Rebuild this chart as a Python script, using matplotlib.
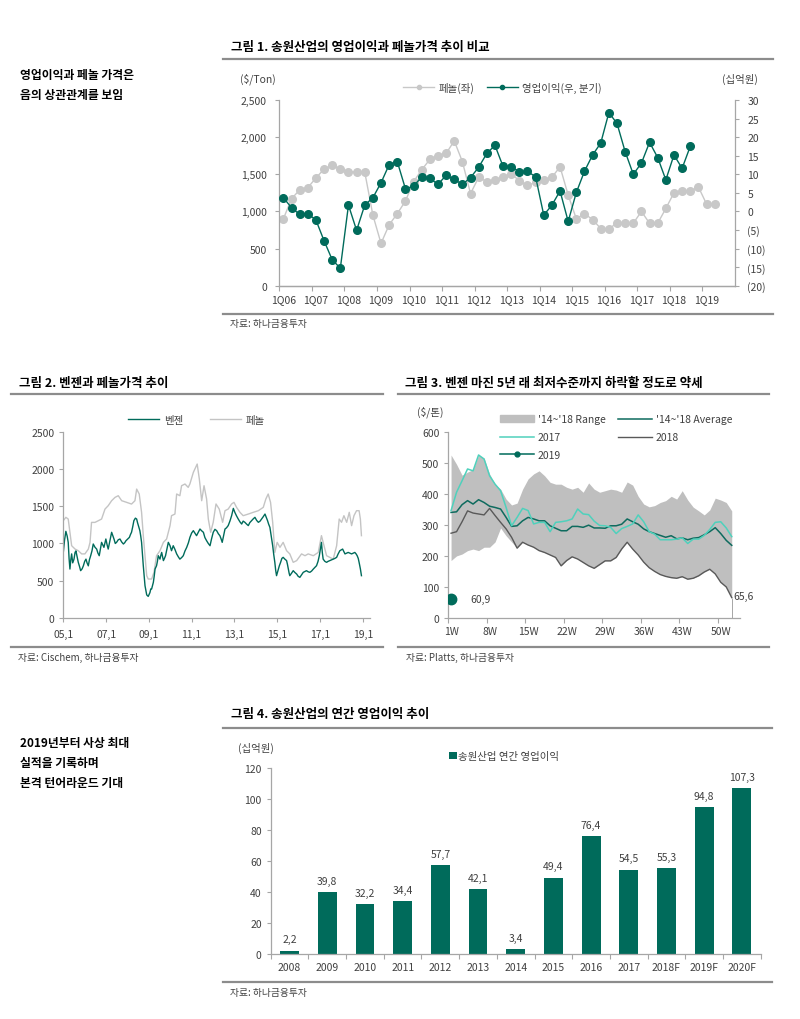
import numpy as np
import matplotlib
matplotlib.use('Agg')
import matplotlib.pyplot as plt
from matplotlib.lines import Line2D
from matplotlib.patches import Patch
from matplotlib.ticker import FuncFormatter

plt.rcParams['font.family'] = ['Noto Sans CJK KR', 'DejaVu Sans']
plt.rcParams['axes.unicode_minus'] = False

GREEN = '#006B5B'
LGRAY = '#C8C8C8'
AXIS = '#A6A6A6'
TXT = '#404040'
RULE = '#8C8C8C'

# ---- Fig 1: quarterly phenol price ($/ton) and operating profit (bn won)
q_labels = ['1Q06', '1Q07', '1Q08', '1Q09', '1Q10', '1Q11', '1Q12',
            '1Q13', '1Q14', '1Q15', '1Q16', '1Q17', '1Q18', '1Q19']
phenol_q = [900, 1170, 1290, 1320, 1450, 1570, 1620, 1570, 1530, 1530, 1530, 950,
            570, 820, 970, 1140, 1400, 1560, 1700, 1750, 1780, 1950, 1670, 1240,
            1460, 1400, 1420, 1460, 1510, 1410, 1350, 1390, 1420, 1460, 1600, 1220,
            900, 970, 890, 770, 760, 850, 850, 840, 1000, 840, 840, 1040,
            1250, 1280, 1270, 1330, 1100, 1100]
op_q = [3.7, 1.0, -0.8, -0.6, -2.3, -7.9, -13.0, -15.3, 1.7, -5.1, 1.7, 3.7,
        7.7, 12.6, 13.4, 6.1, 6.8, 9.3, 8.9, 7.3, 9.7, 8.6, 7.3, 9.1,
        11.9, 15.6, 17.8, 12.1, 12.0, 10.7, 10.8, 9.3, -1.0, 1.7, 5.5, -2.7,
        5.1, 10.8, 15.2, 18.4, 26.6, 23.7, 16.1, 10.0, 13.0, 18.6, 14.5, 8.5,
        15.2, 11.6, 17.5]

# ---- Fig 2: benzene / phenol prices (year, value)
bz_t = [2005.00, 2005.06, 2005.12, 2005.18, 2005.23, 2005.27, 2005.31, 2005.35, 2005.39, 2005.44,
        2005.50, 2005.55, 2005.59, 2005.65, 2005.70, 2005.76, 2005.81, 2005.88, 2005.94, 2006.00,
        2006.06, 2006.11, 2006.17, 2006.22, 2006.28, 2006.34, 2006.40, 2006.48, 2006.56, 2006.62,
        2006.68, 2006.74, 2006.79, 2006.85, 2006.90, 2006.95, 2006.99, 2007.05, 2007.10, 2007.18,
        2007.26, 2007.32, 2007.37, 2007.43, 2007.49, 2007.57, 2007.65, 2007.73, 2007.81, 2007.87,
        2007.93, 2008.01, 2008.09, 2008.14, 2008.19, 2008.25, 2008.30, 2008.37, 2008.43, 2008.47,
        2008.51, 2008.55, 2008.58, 2008.62, 2008.66, 2008.74, 2008.82, 2008.90, 2008.97, 2009.05,
        2009.09, 2009.13, 2009.21, 2009.25, 2009.29, 2009.36, 2009.40, 2009.44, 2009.52, 2009.56,
        2009.60, 2009.68, 2009.73, 2009.78, 2009.85, 2009.91, 2009.99, 2010.06, 2010.14, 2010.22,
        2010.30, 2010.38, 2010.45, 2010.53, 2010.61, 2010.69, 2010.77, 2010.85, 2010.92, 2011.00,
        2011.08, 2011.15, 2011.23, 2011.31, 2011.39, 2011.47, 2011.55, 2011.62, 2011.70, 2011.78,
        2011.86, 2011.93, 2012.01, 2012.09, 2012.17, 2012.25, 2012.32, 2012.38, 2012.43, 2012.50,
        2012.56, 2012.63, 2012.71, 2012.79, 2012.87, 2012.95, 2013.02, 2013.10, 2013.18, 2013.26,
        2013.34, 2013.41, 2013.49, 2013.57, 2013.65, 2013.72, 2013.80, 2013.88, 2013.96, 2014.04,
        2014.12, 2014.20, 2014.27, 2014.35, 2014.43, 2014.49, 2014.55, 2014.60, 2014.66, 2014.72,
        2014.79, 2014.84, 2014.89, 2014.93, 2014.97, 2015.01, 2015.05, 2015.10, 2015.16, 2015.22,
        2015.28, 2015.36, 2015.44, 2015.48, 2015.52, 2015.56, 2015.59, 2015.67, 2015.75, 2015.83,
        2015.91, 2015.98, 2016.06, 2016.14, 2016.22, 2016.30, 2016.37, 2016.45, 2016.53, 2016.61,
        2016.69, 2016.77, 2016.84, 2016.91, 2016.97, 2017.02, 2017.07, 2017.11, 2017.15, 2017.23,
        2017.31, 2017.38, 2017.46, 2017.54, 2017.62, 2017.70, 2017.78, 2017.85, 2017.93, 2018.00,
        2018.06, 2018.12, 2018.17, 2018.25, 2018.32, 2018.40, 2018.48, 2018.55, 2018.63, 2018.69,
        2018.74, 2018.79, 2018.83, 2018.89, 2018.94]
bz_v = [880, 1050, 1163, 1100, 1015, 800, 657, 780, 860, 740,
        790, 880, 900, 820, 747, 690, 635, 660, 702, 760,
        790, 740, 700, 780, 836, 900, 993, 950, 925, 870,
        836, 930, 1015, 980, 948, 1010, 1060, 980, 925, 1040,
        1150, 1100, 1060, 1000, 1015, 1050, 1060, 1020, 993, 1010,
        1037, 1060, 1082, 1120, 1150, 1230, 1306, 1340, 1328, 1280,
        1240, 1200, 1172, 1100, 1015, 702, 434, 310, 290, 340,
        390, 390, 478, 560, 657, 702, 760, 836, 790, 840,
        880, 770, 800, 836, 930, 1015, 970, 903, 970, 920,
        860, 820, 790, 810, 836, 900, 948, 1010, 1082, 1140,
        1172, 1140, 1105, 1150, 1194, 1170, 1150, 1080, 1037, 1000,
        970, 1060, 1150, 1190, 1172, 1130, 1105, 1060, 1015, 1110,
        1194, 1210, 1240, 1300, 1373, 1471, 1418, 1370, 1328, 1290,
        1261, 1300, 1284, 1260, 1240, 1280, 1306, 1330, 1351, 1310,
        1284, 1300, 1328, 1360, 1395, 1350, 1306, 1260, 1216, 1100,
        970, 850, 747, 640, 568, 610, 657, 700, 747, 800,
        814, 790, 770, 720, 657, 600, 568, 600, 635, 610,
        590, 560, 545, 580, 613, 625, 635, 620, 613, 630,
        657, 680, 702, 760, 836, 930, 1015, 880, 790, 760,
        747, 760, 770, 780, 790, 800, 814, 860, 903, 915,
        925, 890, 860, 870, 880, 870, 860, 870, 880, 860,
        836, 800, 747, 660, 568]
ph_t = [2005.00, 2005.12, 2005.23, 2005.31, 2005.39, 2005.55, 2005.70, 2005.86, 2006.01, 2006.17,
        2006.25, 2006.32, 2006.48, 2006.64, 2006.79, 2006.95, 2007.10, 2007.26, 2007.42, 2007.57,
        2007.73, 2007.96, 2008.19, 2008.35, 2008.43, 2008.55, 2008.66, 2008.74, 2008.82, 2008.90,
        2008.97, 2009.13, 2009.24, 2009.36, 2009.52, 2009.68, 2009.83, 2009.99, 2010.06, 2010.22,
        2010.30, 2010.45, 2010.53, 2010.69, 2010.84, 2010.92, 2011.08, 2011.26, 2011.36, 2011.47,
        2011.58, 2011.70, 2011.78, 2011.89, 2012.01, 2012.14, 2012.29, 2012.45, 2012.56, 2012.71,
        2012.87, 2012.98, 2013.10, 2013.26, 2013.41, 2013.65, 2013.88, 2014.12, 2014.35, 2014.47,
        2014.58, 2014.69, 2014.79, 2014.89, 2015.00, 2015.13, 2015.28, 2015.44, 2015.59, 2015.75,
        2015.91, 2016.14, 2016.30, 2016.45, 2016.69, 2016.92, 2017.07, 2017.15, 2017.31, 2017.46,
        2017.62, 2017.78, 2017.90, 2018.01, 2018.12, 2018.25, 2018.37, 2018.48, 2018.59, 2018.71,
        2018.83, 2018.89, 2018.94]
ph_v = [1306, 1351, 1328, 1150, 970, 925, 903, 860, 860, 925,
        1015, 1283, 1283, 1306, 1328, 1462, 1507, 1574, 1619, 1641,
        1574, 1552, 1529, 1574, 1730, 1664, 1418, 1105, 836, 568,
        523, 523, 613, 836, 903, 1015, 1060, 1239, 1373, 1395,
        1664, 1641, 1775, 1798, 1753, 1800, 1954, 2066, 1865, 1574,
        1775, 1597, 1328, 1150, 1284, 1530, 1462, 1284, 1440, 1462,
        1530, 1552, 1485, 1418, 1373, 1395, 1418, 1440, 1485, 1597,
        1664, 1552, 1284, 880, 1015, 948, 1015, 903, 860, 747,
        770, 860, 836, 860, 836, 880, 1105, 1015, 836, 814,
        790, 970, 1328, 1284, 1373, 1284, 1418, 1239, 1373, 1440,
        1440, 1328, 1105]
yr_ticks = [2005, 2007, 2009, 2011, 2013, 2015, 2017, 2019]
yr_labels = ['05,1', '07,1', '09,1', '11,1', '13,1', '15,1', '17,1', '19,1']

# ---- Fig 3: benzene margin by week ($/ton)
weeks = list(range(1, 53))
wk_labels = ['1W', '8W', '15W', '22W', '29W', '36W', '43W', '50W']
range_hi = [525, 495, 460, 470, 478, 525, 515, 464, 431, 415, 383, 364, 370, 415, 448, 464,
            474, 458, 437, 431, 431, 421, 415, 421, 405, 435, 415, 405, 410, 415, 412, 405,
            438, 428, 392, 367, 358, 362, 372, 378, 392, 383, 410, 380, 357, 345, 332, 348,
            386, 380, 372, 345]
range_lo = [185, 200, 206, 217, 222, 217, 228, 228, 245, 290, 265, 245, 225, 244, 235, 228,
            217, 211, 203, 195, 168, 185, 197, 190, 179, 168, 160, 172, 184, 184, 195, 222,
            244, 222, 203, 180, 162, 150, 140, 134, 130, 128, 133, 125, 128, 136, 148, 157,
            142, 115, 100, 65.6]
avg_1418 = [340, 342, 365, 378, 367, 381, 372, 360, 356, 351, 324, 295, 297, 313, 324, 319,
            313, 313, 297, 289, 281, 281, 295, 295, 292, 299, 290, 290, 289, 297, 297, 302,
            319, 310, 302, 287, 278, 272, 266, 260, 265, 255, 258, 252, 257, 259, 268, 278,
            291, 272, 250, 234]
y2017 = [346, 405, 442, 480, 474, 525, 512, 458, 431, 410, 356, 297, 324, 353, 346, 303,
         308, 308, 278, 308, 310, 313, 319, 351, 335, 333, 312, 298, 297, 292, 272, 288,
         295, 303, 332, 310, 278, 270, 252, 252, 252, 254, 258, 240, 254, 254, 266, 285,
         308, 310, 290, 262]
y2018 = [273, 278, 310, 345, 338, 335, 332, 353, 330, 308, 287, 260, 225, 244, 235, 228,
         217, 211, 203, 195, 168, 185, 197, 190, 179, 168, 160, 172, 184, 184, 195, 222,
         244, 222, 203, 180, 162, 150, 140, 134, 130, 128, 133, 125, 128, 136, 148, 157,
         142, 115, 100, 65.6]
y2019 = [60.9]

# ---- Fig 4: annual operating profit (bn won)
years4 = ['2008', '2009', '2010', '2011', '2012', '2013', '2014',
          '2015', '2016', '2017', '2018F', '2019F', '2020F']
op_annual = [2.2, 39.8, 32.2, 34.4, 57.7, 42.1, 3.4, 49.4, 76.4, 54.5, 55.3, 94.8, 107.3]


def comma(v):
    return f'{v:.1f}'.replace('.', ',')


def style(ax, right=False):
    for s in ['top', 'right', 'left', 'bottom']:
        ax.spines[s].set_visible(False)
    ax.spines['bottom'].set_visible(True)
    ax.spines['right' if right else 'left'].set_visible(True)
    for s in ax.spines.values():
        s.set_color(AXIS)
        s.set_linewidth(0.9)
    ax.tick_params(colors=AXIS, labelcolor=TXT, labelsize=7.5, length=3, width=0.8)
    ax.set_facecolor('none')


def rule(fig, y, x0, x1):
    fig.add_artist(Line2D([x0 / 800, x1 / 800], [1 - y / 1020, 1 - y / 1020],
                          color=RULE, lw=1.6))


def ftext(fig, x, y, s, **kw):
    kw.setdefault('fontsize', 7.5)
    kw.setdefault('color', TXT)
    kw.setdefault('va', 'center')
    fig.text(x / 800, 1 - y / 1020, s, **kw)


fig = plt.figure(figsize=(8, 10.2), dpi=100)

# side notes
ftext(fig, 20, 76, '영업이익과 페놀 가격은', fontsize=8.5, fontweight='bold', color='black')
ftext(fig, 20, 96, '음의 상관관계를 보임', fontsize=8.5, fontweight='bold', color='black')
ftext(fig, 20, 744, '2019년부터 사상 최대', fontsize=8.5, fontweight='bold', color='black')
ftext(fig, 20, 764, '실적을 기록하며', fontsize=8.5, fontweight='bold', color='black')
ftext(fig, 20, 783, '본격 턴어라운드 기대', fontsize=8.5, fontweight='bold', color='black')

# ======== Figure 1
ftext(fig, 231, 48, '그림 1. 송원산업의 영업이익과 페놀가격 추이 비교', fontsize=9, fontweight='bold', color='black')
rule(fig, 60, 223, 773)
rule(fig, 315, 223, 773)
ftext(fig, 230, 324, '자료: 하나금융투자', fontsize=7)

ax1 = fig.add_axes([279.3 / 800, 1 - 286.7 / 1020, (735 - 279.3) / 800, (286.7 - 101) / 1020])
style(ax1)
xq = np.arange(len(phenol_q))
ax1.plot(xq, phenol_q, color=LGRAY, lw=1.0, marker='o', ms=5.5, mec=LGRAY, mfc=LGRAY, zorder=2)
ax1.set_xlim(-0.5, 55.5)
ax1.set_ylim(0, 2500)
ax1.set_yticks(range(0, 2501, 500))
ax1.yaxis.set_major_formatter(FuncFormatter(lambda v, p: f'{v:,.0f}'))
ax1.set_xticks(range(0, 53, 4))
ax1.set_xticklabels(q_labels)
ax1.set_xticks(np.arange(-0.5, 53, 4), minor=True)
ax1.tick_params(axis='x', which='major', length=0, pad=6)
ax1.tick_params(axis='x', which='minor', length=3.5, colors=AXIS, width=0.8)
ax1.tick_params(axis='y', pad=6)

ax1r = ax1.twinx()
style(ax1r, right=True)
ax1r.plot(np.arange(len(op_q)), op_q, color=GREEN, lw=1.0, marker='o', ms=5.5, zorder=3)
ax1r.set_ylim(-20, 30)
ax1r.set_yticks(range(-20, 31, 5))
ax1r.yaxis.set_major_formatter(FuncFormatter(lambda v, p: f'({abs(v):.0f})' if v < 0 else f'{v:.0f}'))
ax1r.tick_params(axis='y', pad=6)

ftext(fig, 240, 79, '($/Ton)')
ftext(fig, 722, 79, '(십억원)')
h1 = [Line2D([], [], color=LGRAY, lw=1.0, marker='o', ms=3),
      Line2D([], [], color=GREEN, lw=1.0, marker='o', ms=3)]
fig.legend(h1, ['페놀(좌)', '영업이익(우, 분기)'], loc='center', ncol=2,
           bbox_to_anchor=(0.628, 1 - 88 / 1020), frameon=False, fontsize=7.5,
           handlelength=3, columnspacing=1.2, handletextpad=0.4, labelcolor=TXT)

# ======== Figure 2
ftext(fig, 19, 383, '그림 2. 벤젠과 페놀가격 추이', fontsize=9, fontweight='bold', color='black')
rule(fig, 395, 11, 383)
rule(fig, 648, 11, 383)
ftext(fig, 18, 658, '자료: Cischem, 하나금융투자', fontsize=7)

ax2 = fig.add_axes([63.3 / 800, 1 - 619 / 1020, (370 - 63.3) / 800, (619 - 432.7) / 1020])
style(ax2)
ph_line, = ax2.plot(ph_t, ph_v, color='#C4C4C4', lw=1.0)
bz_line, = ax2.plot(bz_t, bz_v, color=GREEN, lw=1.0)
ax2.set_xlim(2005, 2019.34)
ax2.set_ylim(0, 2500)
ax2.set_yticks(range(0, 2501, 500))
ax2.set_xticks(yr_ticks)
ax2.set_xticklabels(yr_labels)
ax2.tick_params(axis='x', pad=5)
fig.legend([bz_line, ph_line], ['벤젠', '페놀'], loc='center', ncol=2,
           bbox_to_anchor=(0.2455, 1 - 421 / 1020),
           frameon=False, fontsize=7.5, handlelength=3, columnspacing=2.6,
           handletextpad=0.4, labelcolor=TXT)

# ======== Figure 3
ftext(fig, 405, 383, '그림 3. 벤젠 마진 5년 래 최저수준까지 하락할 정도로 약세', fontsize=9,
      fontweight='bold', color='black')
rule(fig, 395, 398, 769)
rule(fig, 648, 398, 769)
ftext(fig, 406, 658, '자료: Platts, 하나금융투자', fontsize=7)

ax3 = fig.add_axes([448.3 / 800, 1 - 619 / 1020, (740 - 448.3) / 800, (619 - 432.7) / 1020])
style(ax3)
ax3.fill_between(weeks, range_lo, range_hi, color='#BFBFBF', lw=0, zorder=1)
ax3.plot(weeks, avg_1418, color='#0E6B5E', lw=1.1, zorder=3)
ax3.plot(weeks, y2017, color='#4FD1BC', lw=1.1, zorder=3)
ax3.plot(weeks, y2018, color='#595959', lw=1.0, zorder=2)
ax3.plot(weeks[:1], y2019, color=GREEN, marker='o', ms=7.5, lw=0, zorder=4)
ax3.vlines(weeks[-1], 0, y2018[-1], color='#A6A6A6', lw=0.7)
ax3.text(weeks[0] + 3.5, y2019[0], comma(y2019[0]), fontsize=7.5, color=TXT, va='center')
ax3.text(weeks[-1] + 0.3, y2018[-1] + 6, comma(y2018[-1]), fontsize=7.5, color=TXT, va='center')
ax3.set_xlim(0.5, 53.5)
ax3.set_ylim(0, 600)
ax3.set_yticks(range(0, 601, 100))
ax3.set_xticks(range(1, 51, 7))
ax3.set_xticklabels(wk_labels)
ax3.set_xticks(np.arange(0.5, 51, 7), minor=True)
ax3.tick_params(axis='x', which='major', length=0, pad=6)
ax3.tick_params(axis='x', which='minor', length=3.5, colors=AXIS, width=0.8)
ftext(fig, 417, 412, '($/톤)')
h3 = [Patch(color='#BFBFBF'),
      Line2D([], [], color='#4FD1BC', lw=1.1),
      Line2D([], [], color=GREEN, lw=1.1, marker='o', ms=3.5),
      Line2D([], [], color='#0E6B5E', lw=1.1),
      Line2D([], [], color='#595959', lw=1.0)]
l3 = ["'14~'18 Range", '2017', '2019', "'14~'18 Average", '2018']
fig.legend(h3, l3, loc='upper left', ncol=2, bbox_to_anchor=(491 / 800, 1 - 406 / 1020),
           frameon=False, fontsize=7.5, handlelength=3.2, columnspacing=1.2,
           handletextpad=0.4, labelspacing=0.75, labelcolor=TXT)

# ======== Figure 4
ftext(fig, 231, 715, '그림 4. 송원산업의 연간 영업이익 추이', fontsize=9, fontweight='bold', color='black')
rule(fig, 729, 223, 772)
rule(fig, 983, 223, 772)
ftext(fig, 230, 993, '자료: 하나금융투자', fontsize=7)

ax4 = fig.add_axes([270.7 / 800, 1 - 955 / 1020, (760.7 - 270.7) / 800, (955 - 769.3) / 1020])
style(ax4)
x4 = np.arange(len(years4))
bars = ax4.bar(x4, op_annual, width=0.5, color=GREEN)
for xi, v in zip(x4, op_annual):
    ax4.text(xi, v + 4, comma(v), ha='center', va='bottom', fontsize=7.5, color=TXT)
ax4.set_xlim(-0.5, len(years4) - 0.5)
ax4.set_ylim(0, 120)
ax4.set_yticks(range(0, 121, 20))
ax4.set_xticks(x4)
ax4.set_xticklabels(years4)
ax4.set_xticks(np.arange(-0.5, len(years4), 1), minor=True)
ax4.tick_params(axis='x', which='major', length=0, pad=6)
ax4.tick_params(axis='x', which='minor', length=3.5, colors=AXIS, width=0.8)
ftext(fig, 238, 748, '(십억원)')
fig.legend([bars], ['송원산업 연간 영업이익'], loc='center left',
           bbox_to_anchor=(440 / 800, 1 - 757 / 1020), frameon=False,
           fontsize=7.5, handlelength=0.7, handleheight=0.7, handletextpad=0.1, labelcolor=TXT)

fig.savefig('out.png', dpi=100)
